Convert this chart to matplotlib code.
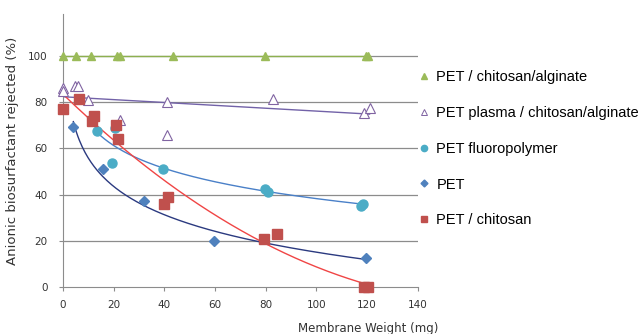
import numpy as np
import matplotlib
matplotlib.use("Agg")
import matplotlib.pyplot as plt
from matplotlib.lines import Line2D

# data (x = membrane weight in mg, y = % rejected)
x_alg = [0, 5, 11, 21.3, 22.4, 43.3, 79.9, 119.7, 120.5]
y_alg = [100, 100, 100, 100, 100, 100, 100, 100, 100]

x_plasma = [0, 0, 4.9, 6, 9.7, 22.4, 40.9, 41.1, 82.8, 118.8, 121.3]
y_plasma = [86.1, 84.6, 86.8, 86.8, 80.7, 72.3, 80.2, 65.8, 81.3, 75.3, 77.3]

x_fluoro = [13.3, 20.6, 19.3, 39.5, 79.8, 81.1, 117.6, 118.6]
y_fluoro = [67.4, 68.7, 53.6, 51.2, 42.2, 41.1, 35.0, 36.1]

x_pet = [4.1, 15.9, 31.9, 59.7, 119.6]
y_pet = [69.4, 51.2, 37.4, 19.8, 12.6]

x_chit = [0, 6.2, 11.4, 12.3, 21.1, 21.9, 39.8, 41.3, 79.5, 84.5, 118.9, 120.2]
y_chit = [76.8, 81.3, 72.0, 73.8, 70.1, 63.8, 35.8, 38.9, 20.7, 23.0, 0, 0]

labels = ["PET / chitosan/alginate", "PET plasma / chitosan/alginate",
          "PET fluoropolymer", "PET", "PET / chitosan"]

c_green = "#9BBB59"
c_purple = "#8064A2"
c_cyan = "#4BACC6"
c_blue = "#4F81BD"
c_red = "#C0504D"

fig = plt.figure(figsize=(6.38, 3.34), dpi=100)
ax = fig.add_axes([0.0987, 0.1407, 0.556, 0.817])

for y in [20, 40, 60, 80, 100]:
    ax.axhline(y, color="#8c8c8c", lw=0.9, zorder=0)

# trendlines (same kinds excel would use)
xs = np.linspace(0, 121, 200)
p = np.polyfit(x_alg, y_alg, 1)
ax.plot(xs, np.polyval(p, xs), color="#8DB04F", lw=1.0, zorder=1)

p = np.polyfit(x_plasma, y_plasma, 1)
ax.plot(xs, np.polyval(p, xs), color="#7262A8", lw=1.0, zorder=1)

xs = np.linspace(min(x_fluoro), max(x_fluoro), 200)
p = np.polyfit(np.log(x_fluoro), y_fluoro, 1)
ax.plot(xs, np.polyval(p, np.log(xs)), color="#4A80C8", lw=1.0, zorder=1)

xs = np.linspace(min(x_pet), max(x_pet), 200)
p = np.polyfit(np.log(x_pet), y_pet, 1)
ax.plot(xs, np.polyval(p, np.log(xs)), color="#2B3A80", lw=1.0, zorder=1)

xs = np.linspace(0, 120, 200)
p = np.polyfit(x_chit, y_chit, 2)
ax.plot(xs, np.polyval(p, xs), color="#F04545", lw=1.0, zorder=1)

# markers
ax.plot(x_alg, y_alg, "^", color=c_green, ms=6, ls="none", zorder=3, clip_on=False)
ax.plot(x_plasma, y_plasma, "^", mfc="white", mec=c_purple, mew=0.8, ms=6.5,
        ls="none", zorder=3, clip_on=False)
ax.plot(x_fluoro, y_fluoro, "o", color=c_cyan, ms=6.5, ls="none", zorder=3)
ax.plot(x_pet, y_pet, "D", color=c_blue, ms=5.5, ls="none", zorder=3)
ax.plot(x_chit, y_chit, "s", color=c_red, ms=6.5, ls="none", zorder=3, clip_on=False)

ax.set_xlim(0, 140)
ax.set_ylim(0, 118)
ax.set_xticks(range(0, 141, 20))
ax.set_yticks(range(0, 101, 20))
for s in ["top", "right"]:
    ax.spines[s].set_visible(False)
ax.spines["left"].set_color("#8c8c8c")
ax.spines["bottom"].set_color("#8c8c8c")
ax.tick_params(axis="both", labelsize=7.5, colors="#8c8c8c", labelcolor="#333333",
               length=3, width=0.8)
ax.tick_params(axis="y", length=3, pad=8)
ax.tick_params(axis="x", pad=6)

ax.set_ylabel("Anionic biosurfactant rejected (%)", fontsize=9.5, color="#333333")
ax.yaxis.set_label_coords(-0.125, 0.5)
ax.set_xlabel("Membrane Weight (mg)", fontsize=8.5, color="#333333")
ax.xaxis.set_label_coords(0.86, -0.13)

handles = [
    Line2D([], [], marker="^", color=c_green, ls="none", ms=4.5),
    Line2D([], [], marker="^", mfc="white", mec=c_purple, mew=0.7, ls="none", ms=4.5),
    Line2D([], [], marker="o", color=c_cyan, ls="none", ms=4.5),
    Line2D([], [], marker="D", color=c_blue, ls="none", ms=3.5),
    Line2D([], [], marker="s", color=c_red, ls="none", ms=4),
]
fig.legend(handles, labels, loc="upper left", bbox_to_anchor=(0.635, 0.83),
           frameon=False, labelspacing=1.5, handlelength=0.8,
           handletextpad=0.45, prop={"family": "Liberation Sans", "size": 10.5})

fig.savefig("out.png", dpi=100)
